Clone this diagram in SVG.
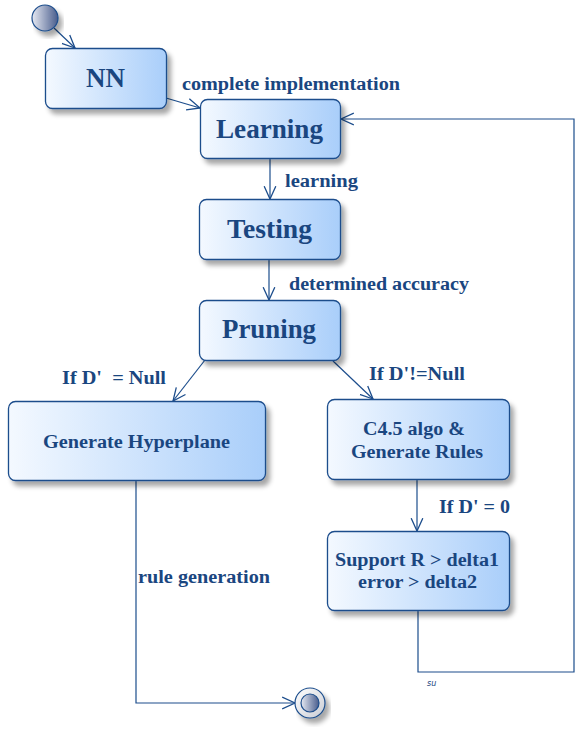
<svg xmlns="http://www.w3.org/2000/svg" width="575" height="731" viewBox="0 0 575 731">
<style>
.box{fill:url(#bg);stroke:#1c4d8c;stroke-width:1.3;filter:url(#sh)}
.t{font-family:"Liberation Serif","Times New Roman",serif;font-weight:bold;fill:#1a4680;text-anchor:start}
.big{font-size:27px}
.mid{font-size:18px}
.lbl{font-size:18px}
.c{fill:none;stroke:#1c4d8c;stroke-width:1.2}
</style>
<defs>
<linearGradient id="bg" x1="0" y1="0" x2="1" y2="0">
<stop offset="0" stop-color="#f4f9ff"/>
<stop offset="1" stop-color="#a9cefa"/>
</linearGradient>
<linearGradient id="cg" x1="0" y1="0" x2="1" y2="0">
<stop offset="0" stop-color="#e6e9f2"/>
<stop offset="1" stop-color="#485c8c"/>
</linearGradient>
<linearGradient id="og" x1="0" y1="0" x2="1" y2="1">
<stop offset="0" stop-color="#ffffff"/>
<stop offset="1" stop-color="#c9ccd4"/>
</linearGradient>
<filter id="sh" x="-10%" y="-10%" width="130%" height="140%">
<feGaussianBlur in="SourceAlpha" stdDeviation="2.5"/>
<feOffset dx="4" dy="5" result="b"/>
<feComponentTransfer><feFuncA type="linear" slope="0.35"/></feComponentTransfer>
<feMerge><feMergeNode/><feMergeNode in="SourceGraphic"/></feMerge>
</filter>
<marker id="ar" markerUnits="userSpaceOnUse" markerWidth="14" markerHeight="14" viewBox="0 0 12 12" refX="11" refY="6" orient="auto">
<path d="M0,1 L11,6 L0,11" fill="none" stroke="#1c4d8c" stroke-width="1.1"/>
</marker>
</defs>

<g id="connectors">
<line class="c" x1="54" y1="28" x2="75" y2="48" marker-end="url(#ar)"/>
<line class="c" x1="166" y1="98" x2="200" y2="108" marker-end="url(#ar)"/>
<line class="c" x1="270" y1="158" x2="270" y2="199" marker-end="url(#ar)"/>
<line class="c" x1="269" y1="259" x2="269" y2="300" marker-end="url(#ar)"/>
<line class="c" x1="205" y1="360" x2="173" y2="401" marker-end="url(#ar)"/>
<line class="c" x1="333" y1="361" x2="373" y2="399" marker-end="url(#ar)"/>
<line class="c" x1="417" y1="479" x2="417" y2="531" marker-end="url(#ar)"/>
<polyline class="c" points="136,481 136,703 295,703" marker-end="url(#ar)"/>
<polyline class="c" points="418,610 418,672 574,672 574,119 341,119" marker-end="url(#ar)"/>
<text class="t lbl" x="182" y="90" textLength="218" lengthAdjust="spacingAndGlyphs">complete implementation</text>
<text class="t lbl" x="285" y="187" textLength="73" lengthAdjust="spacingAndGlyphs">learning</text>
<text class="t lbl" x="289" y="290" textLength="180" lengthAdjust="spacingAndGlyphs">determined accuracy</text>
<text class="t lbl" x="62" y="384" textLength="104" lengthAdjust="spacingAndGlyphs" xml:space="preserve">If D'  = Null</text>
<text class="t lbl" x="369" y="380" textLength="96" lengthAdjust="spacingAndGlyphs">If D'!=Null</text>
<text class="t lbl" x="439" y="513" textLength="71" lengthAdjust="spacingAndGlyphs">If D' = 0</text>
<text class="t lbl" x="138" y="583" textLength="132" lengthAdjust="spacingAndGlyphs">rule generation</text>
<text x="427" y="686" font-family="'DejaVu Sans',sans-serif" font-size="8" font-style="italic" fill="#1a4680">su</text>
</g>

<g id="initial">
<circle cx="45" cy="18" r="13" fill="url(#cg)" stroke="#1c4d8c" stroke-width="1.2" filter="url(#sh)"/>
</g>

<g id="NN">
<rect class="box" x="45.5" y="48.5" width="121" height="60" rx="7"/>
<text class="t big" x="86" y="87" textLength="39" lengthAdjust="spacingAndGlyphs">NN</text>
</g>

<g id="Learning">
<rect class="box" x="200.5" y="99.5" width="140" height="59" rx="7"/>
<text class="t big" x="216" y="138" textLength="107" lengthAdjust="spacingAndGlyphs">Learning</text>
</g>

<g id="Testing">
<rect class="box" x="199.5" y="199.5" width="141" height="60" rx="7"/>
<text class="t big" x="227" y="238" textLength="85" lengthAdjust="spacingAndGlyphs">Testing</text>
</g>

<g id="Pruning">
<rect class="box" x="199.5" y="300.5" width="141" height="60" rx="7"/>
<text class="t big" x="222" y="338" textLength="94" lengthAdjust="spacingAndGlyphs">Pruning</text>
</g>

<g id="Hyperplane">
<rect class="box" x="8.5" y="401.5" width="257" height="79" rx="7"/>
<text class="t mid" x="43" y="448" textLength="187" lengthAdjust="spacingAndGlyphs">Generate Hyperplane</text>
</g>

<g id="C45">
<rect class="box" x="327.5" y="399.5" width="182" height="80" rx="7"/>
<text class="t mid" x="363" y="435" textLength="102" lengthAdjust="spacingAndGlyphs">C4.5 algo &amp;</text>
<text class="t mid" x="351" y="458" textLength="132" lengthAdjust="spacingAndGlyphs">Generate Rules</text>
</g>

<g id="Support">
<rect class="box" x="327.5" y="531.5" width="182" height="79" rx="7"/>
<text class="t mid" x="335" y="566" textLength="164" lengthAdjust="spacingAndGlyphs">Support R &gt; delta1</text>
<text class="t mid" x="358" y="588" textLength="119" lengthAdjust="spacingAndGlyphs">error &gt; delta2</text>
</g>

<g id="final">
<circle cx="310" cy="703" r="15" fill="url(#og)" stroke="#1c4d8c" stroke-width="1.2" filter="url(#sh)"/>
<circle cx="310" cy="703" r="9" fill="url(#cg)" stroke="#1c4d8c" stroke-width="1.2"/>
</g>
</svg>
